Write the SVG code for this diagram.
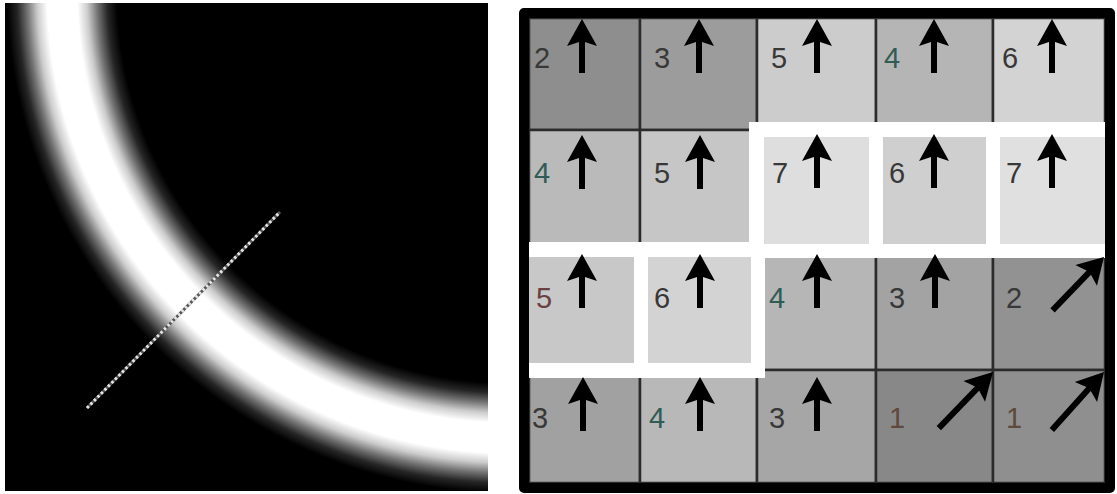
<svg xmlns="http://www.w3.org/2000/svg" xmlns:xlink="http://www.w3.org/1999/xlink" width="1117" height="494" viewBox="0 0 1117 494">
<style>
.cell{stroke:#2b2b2b;stroke-width:2.5}
.wcell{fill:#ffffff}
.num{font-family:"Liberation Sans",Arial,sans-serif;font-size:29px;fill:#383838}
.teal{fill:#2f5c55}
.red{fill:#6a4040}
.brown{fill:#5e4a3c}
.arrow path{fill:#000}
.arrow line{stroke:#000;stroke-width:6}
</style>
<defs>
<radialGradient id="band" gradientUnits="userSpaceOnUse" cx="510" cy="-10" r="560">
<stop offset="0" stop-color="#000"/>
<stop offset="0.7018" stop-color="#000"/>
<stop offset="0.7196" stop-color="#262626"/>
<stop offset="0.7375" stop-color="#737373"/>
<stop offset="0.7554" stop-color="#cccccc"/>
<stop offset="0.7732" stop-color="#fff"/>
<stop offset="0.8268" stop-color="#fff"/>
<stop offset="0.8446" stop-color="#cccccc"/>
<stop offset="0.8625" stop-color="#737373"/>
<stop offset="0.8804" stop-color="#262626"/>
<stop offset="0.8982" stop-color="#000"/>
<stop offset="1" stop-color="#000"/>
</radialGradient>
<g id="au" class="arrow"><path d="M0,0 L15,27 L0,22 L-15,27 Z"/><line x1="0" y1="20" x2="0" y2="54"/></g>
<g id="ad" class="arrow"><path d="M0,0 L15,27 L0,22 L-15,27 Z"/><line x1="0" y1="20" x2="0" y2="78"/></g>
</defs>
<rect width="1117" height="494" fill="#fff"/>

<g id="image-panel">
<rect x="5" y="3" width="483" height="488" fill="url(#band)"/>
<line x1="87" y1="408" x2="280" y2="212" stroke="#555" stroke-width="3"/>
<line x1="87" y1="408" x2="280" y2="212" stroke="#e6e6e6" stroke-width="3" stroke-dasharray="2.5 2.5"/>
</g>

<g id="grid">
<rect x="529" y="18" width="576" height="465" fill="#fff"/>
<g id="normal-cells">
<rect id="r1c1" class="cell" x="529" y="18" width="111" height="112" fill="#8e8e8e"/>
<rect id="r1c2" class="cell" x="640" y="18" width="117" height="112" fill="#9c9c9c"/>
<rect id="r1c3" class="cell" x="757" y="18" width="119" height="112" fill="#cccccc"/>
<rect id="r1c4" class="cell" x="876" y="18" width="117" height="112" fill="#b5b5b5"/>
<rect id="r1c5" class="cell" x="993" y="18" width="112" height="112" fill="#d3d3d3"/>
<rect id="r2c1" class="cell" x="529" y="130" width="111" height="120" fill="#bababa"/>
<rect id="r2c2" class="cell" x="640" y="130" width="117" height="120" fill="#c6c6c6"/>
<rect id="r3c3" class="cell" x="757" y="250" width="119" height="120" fill="#b6b6b6"/>
<rect id="r3c4" class="cell" x="876" y="250" width="117" height="120" fill="#a3a3a3"/>
<rect id="r3c5" class="cell" x="993" y="250" width="112" height="120" fill="#929292"/>
<rect id="r4c1" class="cell" x="529" y="370" width="111" height="113" fill="#a1a1a1"/>
<rect id="r4c2" class="cell" x="640" y="370" width="117" height="113" fill="#b8b8b8"/>
<rect id="r4c3" class="cell" x="757" y="370" width="119" height="113" fill="#a6a6a6"/>
<rect id="r4c4" class="cell" x="876" y="370" width="117" height="113" fill="#888888"/>
<rect id="r4c5" class="cell" x="993" y="370" width="112" height="113" fill="#8f8f8f"/>
</g>
<g id="region-cells">
<rect class="wcell" x="749" y="122" width="135" height="136"/>
<rect class="wcell" x="868" y="122" width="133" height="136"/>
<rect class="wcell" x="985" y="122" width="128" height="136"/>
<rect class="wcell" x="521" y="242" width="127" height="136"/>
<rect class="wcell" x="632" y="242" width="133" height="136"/>
<rect id="r2c3" x="764" y="137" width="105" height="107" fill="#dedede"/>
<rect id="r2c4" x="883" y="137" width="103" height="107" fill="#cfcfcf"/>
<rect id="r2c5" x="1000" y="137" width="105" height="107" fill="#e0e0e0"/>
<rect id="r3c1" x="529" y="257" width="105" height="106" fill="#c8c8c8"/>
<rect id="r3c2" x="648" y="257" width="103" height="106" fill="#d3d3d3"/>
</g>
</g>

<g id="labels">
<text class="num" x="534" y="68" fill="#3a4048">2</text>
<text class="num" x="654" y="68">3</text>
<text class="num" x="771" y="68">5</text>
<text class="num teal" x="884" y="68">4</text>
<text class="num" x="1002" y="68">6</text>
<text class="num teal" x="534" y="183">4</text>
<text class="num" x="654" y="183">5</text>
<text class="num" x="772" y="183">7</text>
<text class="num" x="889" y="183">6</text>
<text class="num" x="1006" y="183">7</text>
<text class="num red" x="536" y="308">5</text>
<text class="num" x="654" y="308">6</text>
<text class="num teal" x="769" y="308">4</text>
<text class="num" x="889" y="308">3</text>
<text class="num" x="1006" y="308">2</text>
<text class="num" x="532" y="428">3</text>
<text class="num teal" x="649" y="428">4</text>
<text class="num" x="769" y="428">3</text>
<text class="num brown" x="889" y="428">1</text>
<text class="num brown" x="1006" y="428">1</text>
</g>

<g id="arrows">
<use xlink:href="#au" transform="translate(582,19)"/>
<use xlink:href="#au" transform="translate(699,19)"/>
<use xlink:href="#au" transform="translate(817,19)"/>
<use xlink:href="#au" transform="translate(934,19)"/>
<use xlink:href="#au" transform="translate(1052,19)"/>
<use xlink:href="#au" transform="translate(582,135)"/>
<use xlink:href="#au" transform="translate(700,135)"/>
<use xlink:href="#au" transform="translate(817,134)"/>
<use xlink:href="#au" transform="translate(934,134)"/>
<use xlink:href="#au" transform="translate(1052,134)"/>
<use xlink:href="#au" transform="translate(582,254)"/>
<use xlink:href="#au" transform="translate(700,254)"/>
<use xlink:href="#au" transform="translate(817,254)"/>
<use xlink:href="#au" transform="translate(935,254)"/>
<use xlink:href="#ad" transform="translate(1104,257) rotate(44) scale(1,0.95)"/>
<use xlink:href="#au" transform="translate(583,377)"/>
<use xlink:href="#au" transform="translate(700,377)"/>
<use xlink:href="#au" transform="translate(817,377)"/>
<use xlink:href="#ad" transform="translate(993,372) rotate(44)"/>
<use xlink:href="#ad" transform="translate(1104,372) rotate(42)"/>
</g>

<g id="frame">
<rect x="524" y="13" width="586" height="475" fill="none" stroke="#000" stroke-width="10" stroke-linejoin="round"/>
</g>
</svg>
